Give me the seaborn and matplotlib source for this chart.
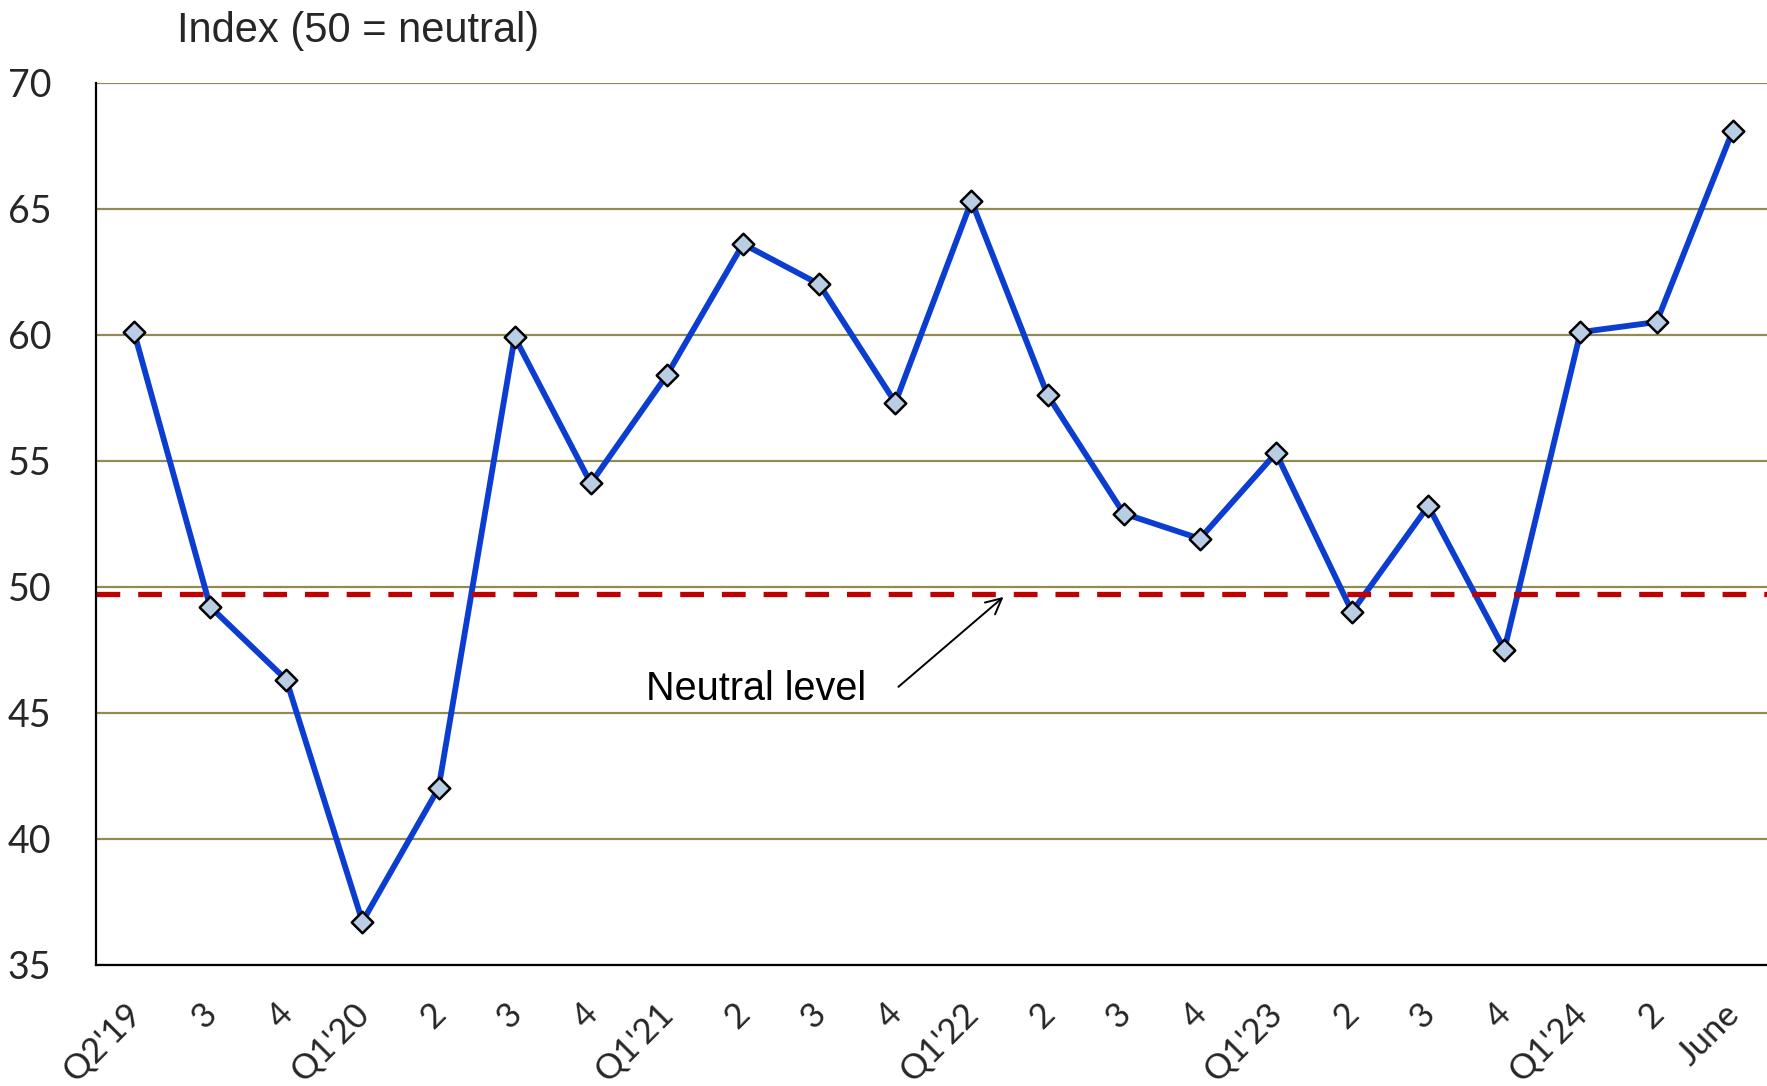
import matplotlib
matplotlib.use("Agg")
import matplotlib.pyplot as plt
import matplotlib.transforms as mtransforms
import seaborn as sns
import numpy as np
import pandas as pd

# ---- data ----
quarters = ["Q2'19", "3", "4", "Q1'20", "2", "3", "4", "Q1'21", "2", "3", "4",
            "Q1'22", "2", "3", "4", "Q1'23", "2", "3", "4", "Q1'24", "2", "June"]
index_values = [60.1, 49.2, 46.3, 36.7, 42.0, 59.9, 54.1, 58.4, 63.6, 62.0, 57.3,
                65.3, 57.6, 52.9, 51.9, 55.3, 49.0, 53.2, 47.5, 60.1, 60.5, 68.1]
neutral_level = 49.7
y_ticks = [35, 40, 45, 50, 55, 60, 65, 70]

df = pd.DataFrame({"pos": np.arange(len(quarters)), "value": index_values})

sns.set_theme(style="white")
plt.rcParams["font.family"] = ["Lato", "DejaVu Sans"]

W, H = 1767, 1086
fig = plt.figure(figsize=(W / 100, H / 100), dpi=100)
ax = fig.add_axes([96 / W, 1 - 964.5 / H, (W - 96) / W, (964.5 - 82.7) / H])

line_blue = "#0B3DD0"
sns.lineplot(data=df, x="pos", y="value", ax=ax, color=line_blue, linewidth=4.2,
             zorder=3)
ax.axhline(neutral_level, color="#C00000", linewidth=3.8,
           linestyle=(0, (4.5, 3.4)), zorder=4)
sns.scatterplot(data=df, x="pos", y="value", ax=ax, marker="D", s=120,
                color="#B9CDE5", edgecolor="black", linewidth=1.8, zorder=5)

ax.set_xlim(-0.5, 21.45)
ax.set_ylim(35, 70)
ax.set_yticks(y_ticks)
ax.set_yticklabels([str(v) for v in y_ticks], fontsize=27)
ax.set_xticks(df["pos"])
ax.set_xticklabels(quarters, fontsize=25, rotation=45, ha="right",
                   va="baseline", rotation_mode="anchor")
ax.tick_params(axis="x", length=0, pad=37)
ax.tick_params(axis="y", length=0, pad=32)
ax.set_xlabel("")
ax.set_ylabel("")

# shift x tick labels slightly right (after tick_params so it is kept)
offset = mtransforms.ScaledTranslation(9 / 100, 0, fig.dpi_scale_trans)
for lab in ax.get_xticklabels():
    lab.set_transform(lab.get_transform() + offset)

# grid
ax.yaxis.grid(True, color="#938953", linewidth=1.6)
ax.xaxis.grid(False)
ax.set_axisbelow(True)
for side in ["top", "right"]:
    ax.spines[side].set_visible(False)
for side in ["left", "bottom"]:
    ax.spines[side].set_color("black")
    ax.spines[side].set_linewidth(1.6)
    ax.spines[side].set_zorder(6)

# annotation
ax.text(6.72, 45.5, "Neutral level", fontsize=28.5,
        family=["Liberation Sans", "DejaVu Sans"], ha="left", va="baseline",
        color="black")
ax.annotate("", xy=(11.42, 49.59), xytext=(10.04, 46.02),
            arrowprops=dict(arrowstyle="->", color="black", lw=1.4,
                            shrinkA=0, shrinkB=0, mutation_scale=28))

fig.text(177 / W, 1 - 42 / H, "Index (50 = neutral)", fontsize=30,
         family=["Liberation Sans", "DejaVu Sans"], ha="left", va="baseline")

fig.savefig("out.png", dpi=100)
